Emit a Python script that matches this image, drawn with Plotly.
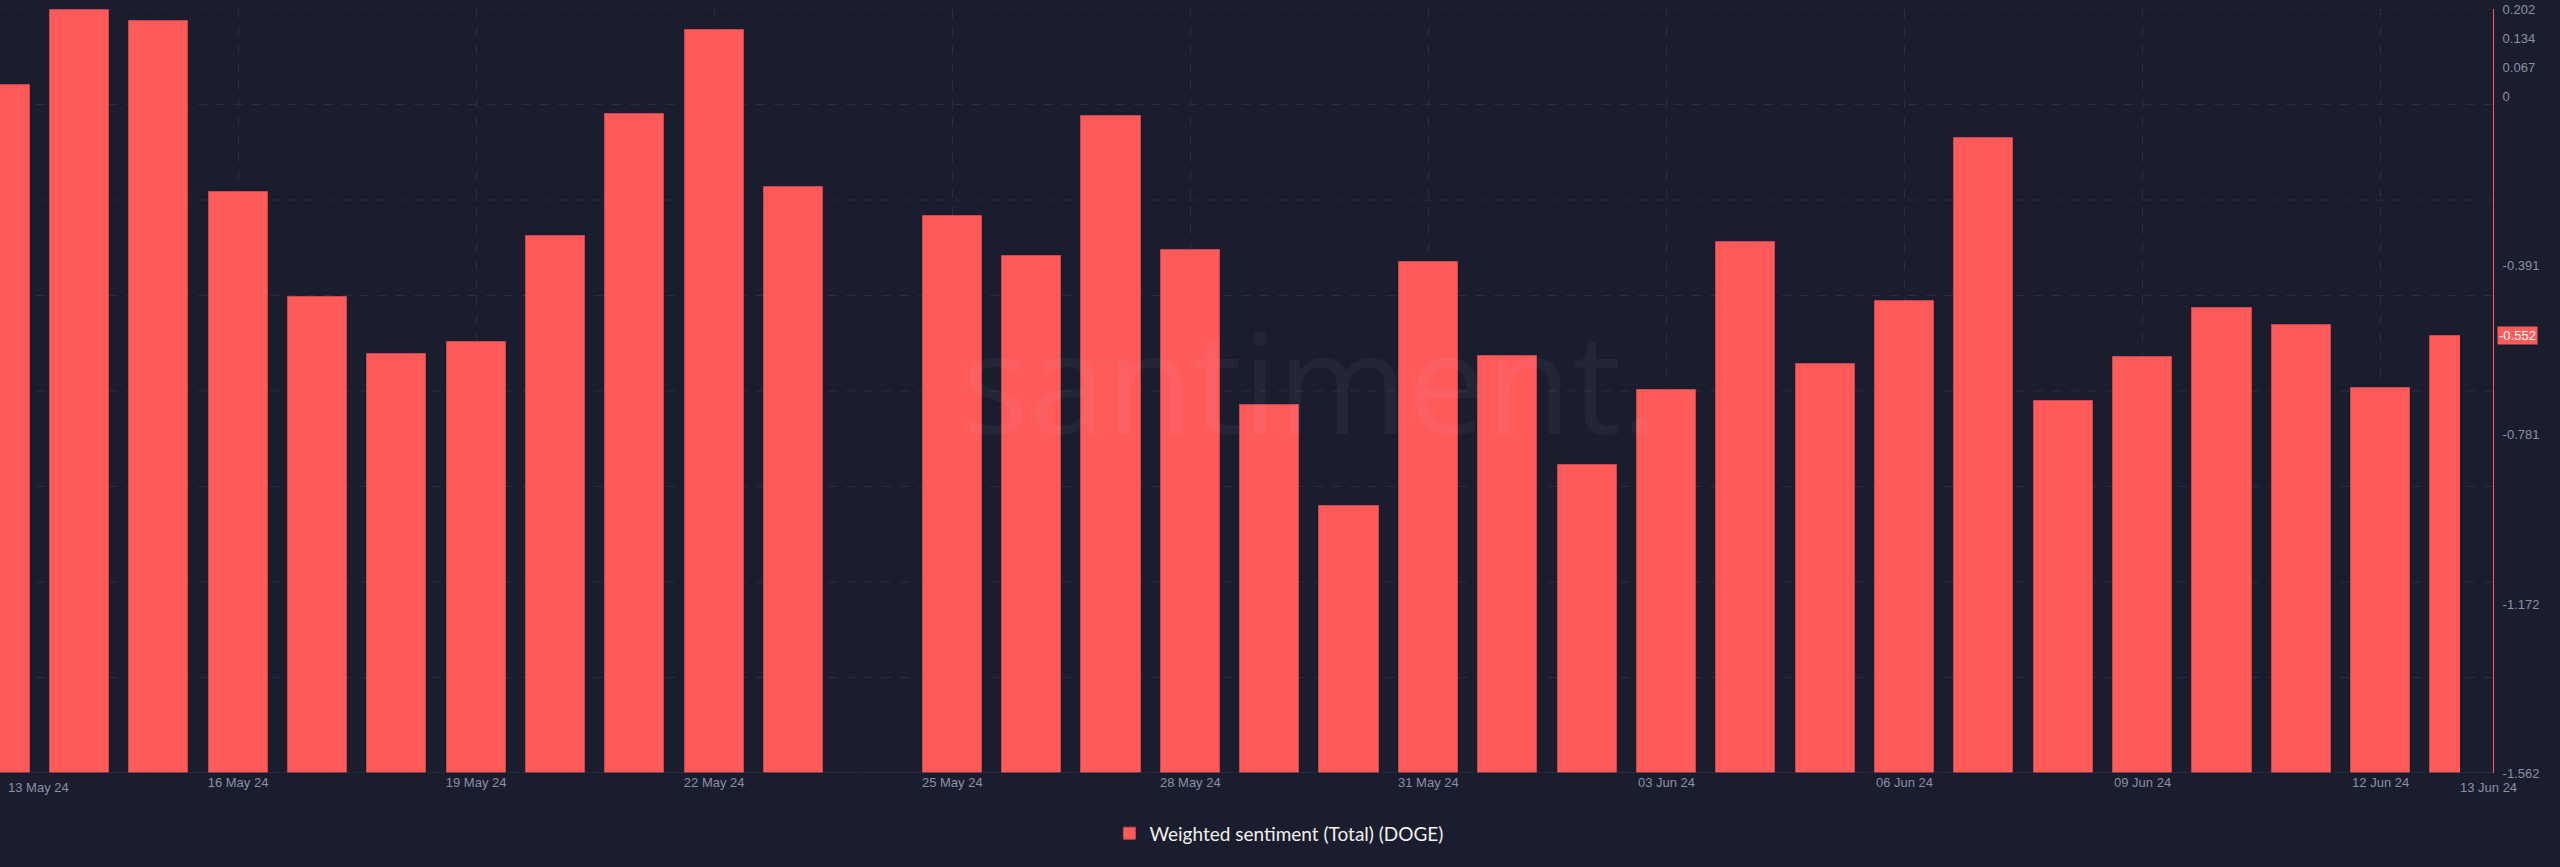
import plotly.graph_objects as go

# ---- data ----
dates = [
    "2024-05-13", "2024-05-14", "2024-05-15", "2024-05-16", "2024-05-17", "2024-05-18",
    "2024-05-19", "2024-05-20", "2024-05-21", "2024-05-22", "2024-05-23", "2024-05-24",
    "2024-05-25", "2024-05-26", "2024-05-27", "2024-05-28", "2024-05-29", "2024-05-30",
    "2024-05-31", "2024-06-01", "2024-06-02", "2024-06-03", "2024-06-04", "2024-06-05",
    "2024-06-06", "2024-06-07", "2024-06-08", "2024-06-09", "2024-06-10", "2024-06-11",
    "2024-06-12", "2024-06-13",
]
sentiment = [
    0.026, 0.199, 0.174, -0.220, -0.462, -0.595,
    -0.568, -0.321, -0.041, 0.154, -0.209, None,
    -0.277, -0.369, -0.044, -0.355, -0.712, -0.946,
    -0.383, -0.599, -0.851, -0.678, -0.335, -0.617,
    -0.473, -0.095, -0.702, -0.601, -0.489, -0.528,
    -0.674, -0.552,
]
series_name = "Weighted sentiment (Total) (DOGE)"

x_tick_vals = ["2024-05-16", "2024-05-19", "2024-05-22", "2024-05-25", "2024-05-28",
               "2024-05-31", "2024-06-03", "2024-06-06", "2024-06-09", "2024-06-12"]
x_tick_text = ["16 May 24", "19 May 24", "22 May 24", "25 May 24", "28 May 24",
               "31 May 24", "03 Jun 24", "06 Jun 24", "09 Jun 24", "12 Jun 24"]
x_edge_text = ["13 May 24", "13 Jun 24"]

y_tick_vals = [0.202, 0.134, 0.067, 0, -0.391, -0.781, -1.172, -1.562]
y_tick_text = ["0.202", "0.134", "0.067", "0", "-0.391", "-0.781", "-1.172", "-1.562"]
Y_MIN, Y_MAX = -1.562, 0.202

# ---- styles ----
BG = "#1a1d2d"
BAR = "#ff5a5a"
GRID = "#2a2e40"
TICK = "#8a91a5"
FONT = "Liberation Sans, Arial, sans-serif"

bar_len = [None if v is None else v - Y_MIN for v in sentiment]

fig = go.Figure()
fig.add_trace(go.Bar(
    x=dates, y=bar_len, base=Y_MIN, name=series_name,
    marker=dict(color=BAR, line=dict(color="#c9474f", width=1)),
    width=0.745 * 86400000,
    showlegend=True,
))

shapes = []
for k in range(9):
    yv = Y_MIN + k * (Y_MAX - Y_MIN) / 8
    shapes.append(dict(type="line", xref="paper", x0=0, x1=1, yref="y", y0=yv, y1=yv,
                       line=dict(color=GRID, width=1, dash="dash"), layer="below"))
shapes.append(dict(type="line", xref="paper", x0=0, x1=1, yref="y", y0=Y_MIN, y1=Y_MIN,
                   line=dict(color="#2e3346", width=1), layer="above"))

annotations = [
    dict(text="santiment.", xref="paper", yref="paper", x=0.5255, y=0.515,
         showarrow=False, xanchor="center", yanchor="middle",
         font=dict(family="Open Sans, sans-serif", size=140, color="rgba(200,210,255,0.05)")),
    dict(text=x_edge_text[0], x=dates[0], xref="x", yref="paper", y=0, yanchor="top",
         xanchor="left", xshift=6, yshift=-5, showarrow=False,
         font=dict(family=FONT, size=13, color=TICK)),
    dict(text=x_edge_text[1], x=dates[-1], xref="x", yref="paper", y=0, yanchor="top",
         xanchor="left", xshift=-2, yshift=-5, showarrow=False,
         font=dict(family=FONT, size=13, color=TICK)),
    dict(text=f"{sentiment[-1]:.3f}", xref="paper", x=1, y=sentiment[-1], yref="y",
         xanchor="left", yanchor="middle", xshift=4, showarrow=False,
         bgcolor=BAR, borderpad=1,
         font=dict(family=FONT, size=13, color="#ffffff")),
]

fig.update_layout(
    width=2560, height=867,
    paper_bgcolor=BG, plot_bgcolor=BG,
    margin=dict(l=0, r=67, t=9, b=94),
    bargap=0,
    shapes=shapes,
    annotations=annotations,
    showlegend=True,
    legend=dict(orientation="h", x=0.513, xanchor="center", y=-0.079, yanchor="middle",
                font=dict(family="Lato, sans-serif", size=19, color="#f0f0f0"),
                bgcolor="rgba(0,0,0,0)"),
    xaxis=dict(
        type="date", range=[dates[0], dates[-1]], domain=[0, 2460 / 2493],
        tickvals=x_tick_vals, ticktext=x_tick_text,
        showgrid=True, gridcolor=GRID, griddash="dash", gridwidth=1,
        showline=False, zeroline=False, ticks="",
        tickfont=dict(family=FONT, size=13, color=TICK),
    ),
    yaxis=dict(
        side="right", anchor="free", position=1,
        range=[Y_MIN, Y_MAX], tickvals=y_tick_vals, ticktext=y_tick_text,
        showgrid=False, zeroline=False, showline=True, linecolor=BAR, linewidth=1,
        ticks="", ticklabelstandoff=6,
        tickfont=dict(family=FONT, size=13, color=TICK),
    ),
)

fig.write_html("out.html", config={"displayModeBar": False},
               post_script="document.body.style.margin='0';document.body.style.overflow='hidden';")
